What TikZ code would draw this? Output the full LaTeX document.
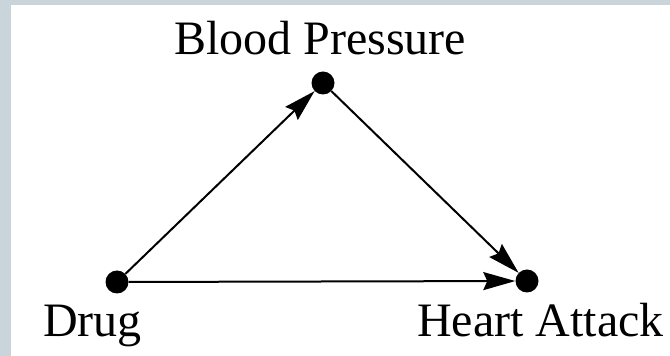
\documentclass[tikz,border=0pt]{standalone}
\usepackage{fontspec}
\setmainfont{Liberation Serif}
\usetikzlibrary{arrows.meta}
\definecolor{frame}{HTML}{C9D5DB}

\begin{document}
\begin{tikzpicture}[
  x=1pt, y=1pt,
  vertex/.style={circle, fill=black, inner sep=0pt, minimum size=23pt},
  arrow/.style={-{Stealth[length=32pt, width=18pt, inset=4pt]}, line width=2pt},
  label/.style={font=\fontsize{48}{56}\selectfont, inner sep=0pt, anchor=base}
]
% Frame
\fill[frame] (0,0) rectangle (670,356);
\fill[white] (11,0) rectangle (670,351);
\useasboundingbox (0,0) rectangle (670,356);
% Variables
\node[vertex] (drug) at (117, 74) {};
\node[vertex] (bp) at (323, 273) {};
\node[vertex] (ha) at (527, 75) {};
% Names
\node[label] (bplabel) at (320, 301) {Blood Pressure};
\node[label, anchor=base west] (druglabel) at (43, 19) {Drug};
\node[label, anchor=base west] (halabel) at (417, 19) {Heart Attack};
% Causal links
\draw[arrow] (drug) -- (bp);
\draw[arrow] (bp) -- (ha);
\draw[arrow] (drug) -- (ha);
\end{tikzpicture}
\end{document}
